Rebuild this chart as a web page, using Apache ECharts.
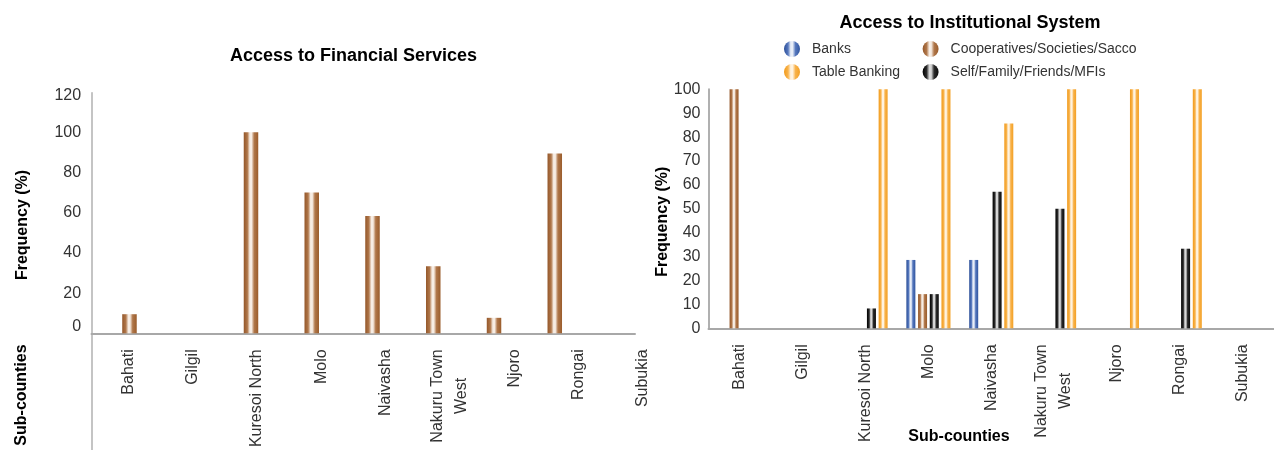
<!DOCTYPE html>
<html>
<head>
<meta charset="utf-8">
<title>Access to Financial Services and Institutional System</title>
<script src="https://cdn.jsdelivr.net/npm/echarts@6/dist/echarts.min.js"></script>
<style>
  html, body { margin: 0; padding: 0; background: #ffffff; }
  #chart { width: 1274px; height: 450px; }
</style>
</head>
<body>
<div id="chart"></div>
<script>
// Sub-county categories shared by both panels
const subCounties = ['Bahati', 'Gilgil', 'Kuresoi North', 'Molo', 'Naivasha', 'Nakuru Town\nWest', 'Njoro', 'Rongai', 'Subukia'];

// Left panel: share with access to financial services (%)
const financialAccess = [9.5, null, 100, 70, 58.3, 33.3, 7.7, 89.5, null];

// Right panel: source of credit by institution type (%)
const banks        = [null, null, null, 28.6, 28.6, null, null, null, null];
const cooperatives = [100,  null, null, 14.3, null, null, null, null, null];
const selfFamily   = [null, null, 8.3,  14.3, 57.1, 50,   null, 33.3, null];
const tableBanking = [null, null, 100,  100,  85.7, 100,  100,  100,  null];

// Value axis ranges
const leftAxisTicks  = [0, 20, 40, 60, 80, 100, 120];
const rightAxisTicks = [0, 10, 20, 30, 40, 50, 60, 70, 80, 90, 100];

const FONT = '"Liberation Sans", Arial, sans-serif';
const AXIS_GRAY = '#a8a8a8';
const TEXT = '#333333';

// Horizontal "cylinder" shading for the bars and legend icons
function cylinder(edge, base, light, edgeR) {
  return new echarts.graphic.LinearGradient(0, 0, 1, 0, [
    { offset: 0, color: edge },
    { offset: 0.25, color: base },
    { offset: 0.42, color: light },
    { offset: 0.54, color: light },
    { offset: 0.72, color: base },
    { offset: 1, color: edgeR }
  ]);
}
const BROWN  = () => cylinder('#94572a', '#b0774a', '#f7ede4', '#9a5c2b');
const BLUE   = () => cylinder('#2b4f98', '#5577bd', '#e8eef8', '#30559f');
const ORANGE = () => cylinder('#f19a1a', '#f8b24a', '#fff3e0', '#f3a024');
const BLACK  = () => cylinder('#000000', '#2a2a2a', '#d8d8d8', '#0c0c0c');

function categoryLabel(v) {
  return v.split('\n').map(s => '{c|' + s + '}').join('\n');
}
const categoryRich = {
  c: { align: 'center', fontSize: 16, lineHeight: 24, fontFamily: FONT, color: TEXT }
};

const hidden = {
  axisLine: { show: false }, axisTick: { show: false },
  axisLabel: { show: false }, splitLine: { show: false }
};

const chart = echarts.init(document.getElementById('chart'), null, { renderer: 'canvas' });

chart.setOption({
  backgroundColor: '#ffffff',
  animation: false,
  textStyle: { fontFamily: FONT },
  title: [
    {
      text: 'Access to Financial Services', left: 353.5, top: 47, textAlign: 'center', padding: 0,
      textStyle: { fontFamily: FONT, fontSize: 18, fontWeight: 'bold', color: '#000' }
    },
    {
      text: 'Access to Institutional System', left: 970, top: 14, textAlign: 'center', padding: 0,
      textStyle: { fontFamily: FONT, fontSize: 18, fontWeight: 'bold', color: '#000' }
    }
  ],
  legend: [
    {
      data: ['Banks', 'Table Banking'], orient: 'vertical', left: 784, top: 41, padding: 0,
      itemWidth: 30, itemHeight: 16, itemGap: 7, icon: 'circle', selectedMode: false,
      textStyle: { fontFamily: FONT, fontSize: 14, color: TEXT, lineHeight: 16 }
    },
    {
      data: ['Cooperatives/Societies/Sacco', 'Self/Family/Friends/MFIs'], orient: 'vertical', left: 922.6, top: 41, padding: 0,
      itemWidth: 30, itemHeight: 16, itemGap: 7, icon: 'circle', selectedMode: false,
      textStyle: { fontFamily: FONT, fontSize: 14, color: TEXT, lineHeight: 16 }
    }
  ],
  grid: [
    // 0: left panel frame (axis lines)
    { left: 91.5, right: 639, top: 92.7, bottom: 0, outerBoundsMode: 'none' },
    // 1: left panel bars
    { left: 99.1, right: 628.1, top: 92.1, bottom: 116.7, outerBoundsMode: 'none' },
    // 2: left panel category labels
    { left: 96, right: 599, top: 92.1, bottom: 116.7, outerBoundsMode: 'none' },
    // 3: right panel
    { left: 708.5, right: 0, top: 89.3, bottom: 121.7, outerBoundsMode: 'none' }
  ],
  xAxis: [
    {
      gridIndex: 0, type: 'value', min: 0, max: 1,
      axisLine: { show: true, onZero: true, lineStyle: { color: AXIS_GRAY, width: 2 } },
      axisTick: { show: false }, axisLabel: { show: false }, splitLine: { show: false }
    },
    Object.assign({ gridIndex: 1, type: 'category', data: subCounties }, hidden),
    {
      gridIndex: 2, type: 'category', data: subCounties,
      axisLine: { show: false }, axisTick: { show: false }, splitLine: { show: false },
      axisLabel: {
        show: true, interval: 0, rotate: 90, margin: 16,
        formatter: categoryLabel, rich: categoryRich,
        fontFamily: FONT, fontSize: 16, color: TEXT
      }
    },
    {
      gridIndex: 3, type: 'category', data: subCounties,
      axisLine: { show: true, lineStyle: { color: AXIS_GRAY, width: 2 } },
      axisTick: { show: false }, splitLine: { show: false },
      axisLabel: {
        show: true, interval: 0, rotate: 90, margin: 16,
        formatter: categoryLabel, rich: categoryRich,
        fontFamily: FONT, fontSize: 16, color: TEXT
      }
    }
  ],
  yAxis: [
    {
      gridIndex: 0, type: 'value', min: -58.2, max: leftAxisTicks[leftAxisTicks.length - 1],
      axisLine: { show: true, onZero: false, lineStyle: { color: '#b0b0b0', width: 1.5 } },
      axisTick: { show: false }, axisLabel: { show: false }, splitLine: { show: false }
    },
    {
      gridIndex: 1, type: 'value',
      min: leftAxisTicks[0], max: leftAxisTicks[leftAxisTicks.length - 1],
      interval: leftAxisTicks[1] - leftAxisTicks[0],
      axisLine: { show: false }, axisTick: { show: false }, splitLine: { show: false },
      axisLabel: {
        margin: 18, fontFamily: FONT, fontSize: 16, color: TEXT,
        formatter: v => v === leftAxisTicks[0] ? '{lo|' + v + '}'
          : v === leftAxisTicks[leftAxisTicks.length - 1] ? '{hi|' + v + '}' : String(v),
        rich: {
          lo: { padding: [0, 0, 14, 0], fontFamily: FONT, fontSize: 16, color: TEXT },
          hi: { padding: [6, 0, 0, 0], fontFamily: FONT, fontSize: 16, color: TEXT }
        }
      }
    },
    Object.assign({ gridIndex: 2, type: 'value', min: 0, max: 120 }, hidden),
    {
      gridIndex: 3, type: 'value',
      min: rightAxisTicks[0], max: rightAxisTicks[rightAxisTicks.length - 1],
      interval: rightAxisTicks[1] - rightAxisTicks[0],
      axisLine: { show: true, lineStyle: { color: '#b0b0b0', width: 2 } },
      axisTick: { show: false }, splitLine: { show: false },
      axisLabel: { margin: 8, fontFamily: FONT, fontSize: 16, color: TEXT }
    }
  ],
  graphic: [
    {
      type: 'text', x: 23, y: 225, rotation: Math.PI / 2,
      style: { text: 'Frequency (%)', font: 'bold 16px ' + FONT, fill: '#000',
               align: 'center', verticalAlign: 'middle', textAlign: 'center', textVerticalAlign: 'middle' }
    },
    {
      type: 'text', x: 22, y: 395, rotation: Math.PI / 2,
      style: { text: 'Sub-counties', font: 'bold 16px ' + FONT, fill: '#000',
               align: 'center', verticalAlign: 'middle', textAlign: 'center', textVerticalAlign: 'middle' }
    },
    {
      type: 'text', x: 663, y: 221.7, rotation: Math.PI / 2,
      style: { text: 'Frequency (%)', font: 'bold 16px ' + FONT, fill: '#000',
               align: 'center', verticalAlign: 'middle', textAlign: 'center', textVerticalAlign: 'middle' }
    },
    {
      type: 'text', x: 959, y: 436.7,
      style: { text: 'Sub-counties', font: 'bold 16px ' + FONT, fill: '#000',
               align: 'center', verticalAlign: 'middle', textAlign: 'center', textVerticalAlign: 'middle' }
    }
  ],
  series: [
    {
      name: 'Access to financial services', type: 'bar', xAxisIndex: 1, yAxisIndex: 1,
      data: financialAccess, barWidth: 14.5, itemStyle: { color: BROWN() }
    },
    {
      name: 'Banks', type: 'bar', xAxisIndex: 3, yAxisIndex: 3,
      data: banks, barWidth: 9, barGap: '30%', itemStyle: { color: BLUE() }
    },
    {
      name: 'Cooperatives/Societies/Sacco', type: 'bar', xAxisIndex: 3, yAxisIndex: 3,
      data: cooperatives, barWidth: 9, barGap: '30%', itemStyle: { color: BROWN() }
    },
    {
      name: 'Self/Family/Friends/MFIs', type: 'bar', xAxisIndex: 3, yAxisIndex: 3,
      data: selfFamily, barWidth: 9, barGap: '30%', itemStyle: { color: BLACK() }
    },
    {
      name: 'Table Banking', type: 'bar', xAxisIndex: 3, yAxisIndex: 3,
      data: tableBanking, barWidth: 9, barGap: '30%', itemStyle: { color: ORANGE() }
    }
  ]
});
</script>
</body>
</html>
